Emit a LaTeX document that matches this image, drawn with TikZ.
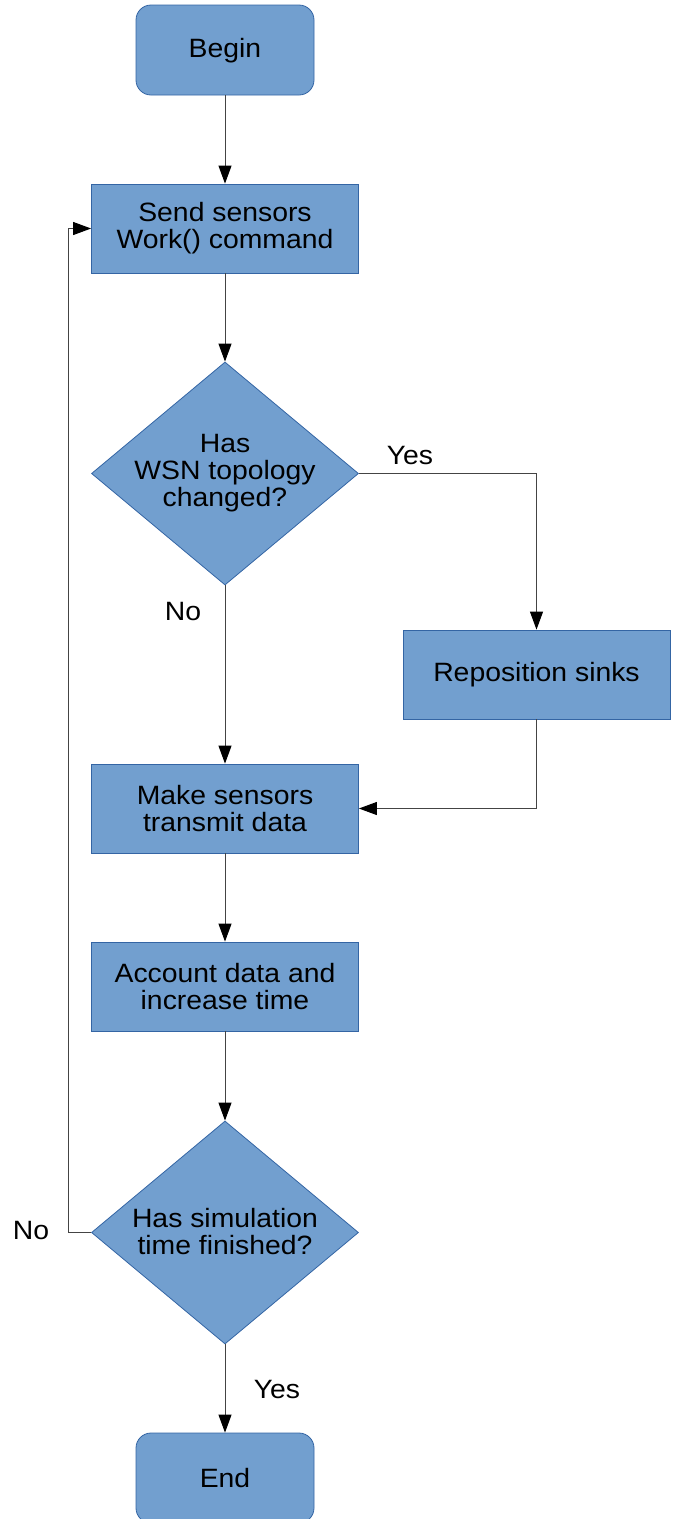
\documentclass[tikz,border=0pt]{standalone}
\usepackage{fontspec}
\setmainfont{Liberation Sans}[FakeStretch=1.07]
\usetikzlibrary{arrows.meta,shapes.geometric}
\definecolor{boxfill}{HTML}{729FCF}
\definecolor{boxline}{HTML}{3465A4}
\definecolor{wire}{HTML}{444444}
\tikzset{
  txt/.style={font=\fontsize{26.5}{27}\selectfont, text=black, align=center},
  procbox/.style={draw=boxline, fill=boxfill, line width=0.8pt, minimum width=267pt, minimum height=89pt, inner sep=0pt, txt},
  termbox/.style={draw=boxline, fill=boxfill, line width=0.8pt, rounded corners=15pt, minimum width=178pt, minimum height=90pt, inner sep=0pt, txt},
  decide/.style={draw=boxline, fill=boxfill, line width=0.8pt, diamond, minimum width=267pt, minimum height=223pt, inner sep=0pt},
  flow/.style={draw=wire, line width=1pt, -{Triangle[length=18pt,width=13pt,black]}},
  lbl/.style={txt}
}
\begin{document}
\begin{tikzpicture}[x=1pt,y=-1pt]
  \useasboundingbox (0,0) rectangle (677,1519);
  % process, decision and terminal nodes
  \node[termbox] (begin) at (225,50) {};
  \node[txt] (begintxt) at (225,51) {Begin};
  \node[procbox] (send) at (225,228.5) {Send sensors\\Work() command};
  \node[decide] (topo) at (225,473.5) {};
  \node[txt] (topotxt) at (225,473) {Has\\WSN topology\\changed?};
  \node[procbox] (repo) at (536.5,674.5) {Reposition sinks};
  \node[procbox] (make) at (225,808.5) {Make sensors\\transmit data};
  \node[procbox] (acct) at (225,986.5) {Account data and\\increase time};
  \node[decide] (fin) at (225,1232.5) {};
  \node[txt] (fintxt) at (225,1232) {Has simulation\\time finished?};
  \node[termbox] (end) at (225,1478) {};
  \node[txt] (endtxt) at (225,1478) {End};
  % branch labels
  \node[lbl] (yes1) at (410,456) {Yes};
  \node[lbl] (no1) at (183,612) {No};
  \node[lbl] (no2) at (31,1230) {No};
  \node[lbl] (yes2) at (277,1389) {Yes};
  % connectors
  \coordinate (back) at (68,1232.5);
  \draw[flow] (begin.south) -- (send.north);
  \draw[flow] (send.south) -- (topo.north);
  \draw[flow] (topo.east) -| (repo.north);
  \draw[flow] (topo.south) -- (make.north);
  \draw[flow] (repo.south) |- (make.east);
  \draw[flow] (make.south) -- (acct.north);
  \draw[flow] (acct.south) -- (fin.north);
  \draw[flow] (fin.west) -- (back) |- (send.west);
  \draw[flow] (fin.south) -- (end.north);
\end{tikzpicture}
\end{document}
